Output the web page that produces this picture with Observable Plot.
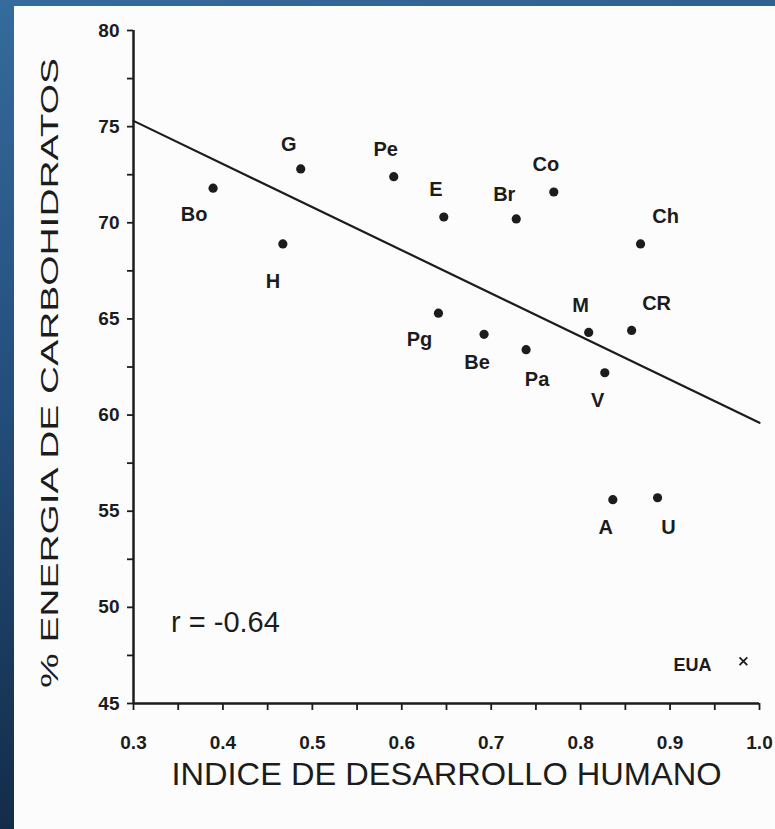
<!DOCTYPE html>
<html><head><meta charset="utf-8">
<script src="https://cdn.jsdelivr.net/npm/d3@7"></script>
<script src="https://cdn.jsdelivr.net/npm/@observablehq/plot@0.6"></script>
<style>
html,body{margin:0;padding:0;}
body{width:775px;height:829px;overflow:hidden;position:relative;
  background:linear-gradient(170deg,#356b9d 0%,#244f7d 40%,#0e2239 100%);}
#panel{position:absolute;left:14px;top:6px;width:761px;height:823px;background:#fcfcfc;}
svg{display:block;}
</style></head><body><div id="panel"></div>
<script>
// Country abbreviations, Human Development Index, % energy from carbohydrates
const countries = ["Bo","G","H","Pe","E","Pg","Br","Co","Ch","M","CR","Be","Pa","V","A","U"];
const idh   = [0.389,0.487,0.467,0.591,0.647,0.641,0.728,0.770,0.867,0.809,0.857,0.692,0.739,0.827,0.836,0.886];
const carbs = [71.8,72.8,68.9,72.4,70.3,65.3,70.2,71.6,68.9,64.3,64.4,64.2,63.4,62.2,55.6,55.7];
const labelSide = ["SW","NW","SS","N","N","SW","NW","N","NE","N","NE","S","SE","S","S","SE"];

// USA, drawn with an "x"
const usaName = ["EUA"];
const usaIdh = [0.982];
const usaCarbs = [47.2];

// Regression line
const trendIdh = [0.3, 1.0];
const trendCarbs = [75.3, 59.6];

// Annotation
const annText = ["r = -0.64"];
const annIdh = [0.342];
const annCarbs = [49.2];

// Ticks
const xTicks = [0.3,0.35,0.4,0.45,0.5,0.55,0.6,0.65,0.7,0.75,0.8,0.85,0.9,0.95,1.0];
const xTickLabels = ["0.3","","0.4","","0.5","","0.6","","0.7","","0.8","","0.9","","1.0"];
const yTicks = [45,47.5,50,52.5,55,57.5,60,62.5,65,67.5,70,72.5,75,77.5,80];
const yTickLabels = ["45","","50","","55","","60","","65","","70","","75","","80"];

const xTitle = "INDICE DE DESARROLLO HUMANO";
const yTitle = "% ENERGIA DE CARBOHIDRATOS";

// ---- build
const points = countries.map((c,i)=>({c, x:idh[i], y:carbs[i], side:labelSide[i]}));
const usa = usaName.map((c,i)=>({c, x:usaIdh[i], y:usaCarbs[i]}));
const trend = trendIdh.map((x,i)=>({x, y:trendCarbs[i]}));
const ann = annText.map((t,i)=>({t, x:annIdh[i], y:annCarbs[i]}));
const xLab = new Map(xTicks.map((t,i)=>[t,xTickLabels[i]]));
const yLab = new Map(yTicks.map((t,i)=>[t,yTickLabels[i]]));

const sideOffsets = {SW:[-19,26], NW:[-12,-24], N:[-8,-27], NE:[25,-27], S:[-7,28], SE:[11,30], SS:[-10,38], W:[-51,4]};
const ink = "#1c1c1c";
const labelMarks = Object.entries(sideOffsets).map(([side,[dx,dy]]) =>
  Plot.text(points.filter(d=>d.side===side), {x:"x", y:"y", text:"c", dx, dy, fontSize:20, fontWeight:"bold", fill:ink, textAnchor:"middle", lineAnchor:"middle"}));

const chart = Plot.plot({
  width:761, height:823,
  marginLeft:119, marginRight:16, marginTop:24, marginBottom:126,
  style:{background:"transparent", fontFamily:"'Liberation Sans', Arial, sans-serif", color:ink, overflow:"visible"},
  x:{domain:[0.3,1.0]},
  y:{domain:[45,80]},
  marks:[
    Plot.axisX({ticks:xTicks, tickSize:7, tickPadding:25, tickFormat:d=>xLab.get(d) ?? "", label:null, fontSize:19, fontWeight:"bold", strokeWidth:1.8}),
    Plot.axisY({ticks:yTicks, tickSize:6, tickPadding:8, tickFormat:d=>yLab.get(d) ?? "", label:null, fontSize:19, fontWeight:"bold", strokeWidth:1.8}),
    Plot.ruleX([0.3], {stroke:ink, strokeWidth:2.5}),
    Plot.ruleY([45], {stroke:ink, strokeWidth:2.5}),
    Plot.line(trend, {x:"x", y:"y", stroke:ink, strokeWidth:2.2}),
    Plot.dot(points, {x:"x", y:"y", r:4.6, fill:ink, stroke:null}),
    ...labelMarks,
    Plot.dot(usa, {x:"x", y:"y", symbol:"times", r:3.6, stroke:ink, strokeWidth:1.8}),
    Plot.text(usa, {x:"x", y:"y", text:"c", dx:sideOffsets.W[0], dy:sideOffsets.W[1], fontSize:18, fontWeight:"bold", fill:ink}),
    Plot.text(ann, {x:"x", y:"y", text:"t", textAnchor:"start", fontSize:29, fill:ink}),
    Plot.text([xTitle], {frameAnchor:"bottom", dy:72, lineAnchor:"middle", fontSize:31, fill:ink}),
    Plot.text([yTitle], {frameAnchor:"left", dx:-83, dy:6, rotate:-90, lineAnchor:"middle", textAnchor:"middle", fontSize:24, fill:ink})
  ]
});
document.getElementById("panel").appendChild(chart);
d3.select(chart).selectAll("text").filter(function(){return this.textContent===xTitle;})
  .attr("textLength",550).attr("lengthAdjust","spacingAndGlyphs");
d3.select(chart).selectAll("text").filter(function(){return this.textContent===yTitle;})
  .attr("textLength",630).attr("lengthAdjust","spacingAndGlyphs");
</script></body></html>
